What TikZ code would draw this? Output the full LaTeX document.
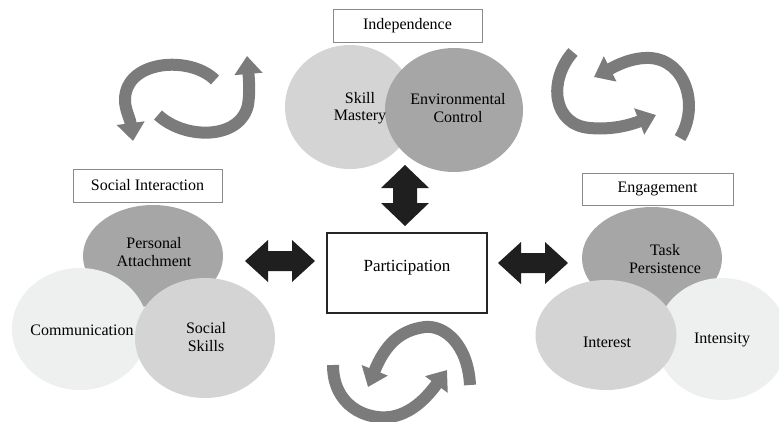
\documentclass[tikz,border=0pt]{standalone}
\usepackage{fontspec}
\setmainfont{Liberation Serif}
\usetikzlibrary{arrows.meta,shapes.geometric}
\definecolor{darkfill}{HTML}{A6A6A6}
\definecolor{midfill}{HTML}{D4D4D4}
\definecolor{lightfill}{HTML}{EEF0F0}
\definecolor{cyclegray}{HTML}{7B7B7B}
\definecolor{boxline}{HTML}{8A8A8A}
\tikzset{
  bubble/.style={ellipse, draw=none, inner sep=0pt},
  lbl/.style={font=\fontsize{16}{17.5}\selectfont, align=center, text=black},
  titlebox/.style={draw=boxline, line width=0.8pt, fill=white, font=\fontsize{16}{17.5}\selectfont, inner sep=0pt},
  mainbox/.style={draw=black!85, line width=1.6pt, fill=white, inner sep=0pt},
  dblarrow/.style={fill=black!88, draw=none},
  cyc/.style={draw=cyclegray, line width=12pt, line cap=butt, -{Triangle[width=27pt,length=18pt]}}
}
\begin{document}
\begin{tikzpicture}[x=1pt,y=-1pt]
\useasboundingbox (0,0) rectangle (779,421);
\fill[white] (0,0) rectangle (779,421);

% Independence
\node[titlebox, minimum width=149pt, minimum height=33pt] (indep) at (407.5,25.5) {Independence};
\node[bubble, fill=midfill, minimum width=130pt, minimum height=124pt] (skill) at (350,107) {};
\node[bubble, fill=darkfill, minimum width=138pt, minimum height=124pt] (env) at (454,110) {};
\node[lbl] (skilltxt) at (360,108) {Skill\\Mastery};
\node[lbl] (envtxt) at (458,108) {Environmental\\Control};

% Social Interaction
\node[titlebox, minimum width=149pt, minimum height=33pt] (social) at (147.5,185.5) {Social Interaction};
\node[bubble, fill=darkfill, minimum width=140pt, minimum height=102pt] (pers) at (153,256) {};
\node[bubble, fill=lightfill, minimum width=136pt, minimum height=122pt] (comm) at (80,329) {};
\node[bubble, fill=midfill, minimum width=140pt, minimum height=120pt] (sskills) at (205,338) {};
\node[lbl] (perstxt) at (154,252) {Personal\\Attachment};
\node[lbl] (commtxt) at (82,330) {Communication};
\node[lbl] (sskillstxt) at (206,337) {Social\\Skills};

% Engagement
\node[titlebox, minimum width=151pt, minimum height=32pt] (engage) at (657.5,189) {Engagement};
\node[bubble, fill=darkfill, minimum width=140pt, minimum height=102pt] (task) at (652,258) {};
\node[bubble, fill=lightfill, minimum width=132pt, minimum height=122pt] (intens) at (722,339) {};
\node[bubble, fill=midfill, minimum width=141pt, minimum height=110pt] (inter) at (606,335) {};
\node[lbl] (tasktxt) at (665,259) {Task\\Persistence};
\node[lbl] (intertxt) at (607,342) {Interest};
\node[lbl] (intenstxt) at (722,340) {Intensity};

% Participation
\node[mainbox, minimum width=160pt, minimum height=80pt] (part) at (407,273) {};
\node[lbl, font=\fontsize{17}{19}\selectfont] (parttxt) at (407,268) {Participation};

% double arrows
\fill[dblarrow] (405,165) -- (429,188) -- (417,188) -- (417,203) -- (429,203) -- (405,226)
  -- (381,203) -- (393,203) -- (393,188) -- (381,188) -- cycle;
\fill[dblarrow] (245,261) -- (268,240) -- (268,251) -- (292,251) -- (292,240) -- (315,261)
  -- (292,282) -- (292,271) -- (268,271) -- (268,282) -- cycle;
\fill[dblarrow] (498,263) -- (521,242) -- (521,253) -- (545,253) -- (545,242) -- (568,263)
  -- (545,284) -- (545,273) -- (521,273) -- (521,284) -- cycle;

% top-left cycle
\coordinate (a1) at (215,80);
\coordinate (a2) at (133,141);
\draw[cyc] (a1) .. controls (190,55) and (125,60) .. (125,100) .. controls (125,110) and (130,118) .. (a2);
\coordinate (b1) at (158,115);
\coordinate (b2) at (247,56);
\draw[cyc] (b1) .. controls (185,140) and (240,140) .. (248,105) .. controls (250,92) and (249,80) .. (b2);

% top-right cycle
\coordinate (c1) at (573,52);
\coordinate (c2) at (656,115);
\draw[cyc] (c1) .. controls (548,80) and (552,125) .. (590,128) .. controls (612,130) and (630,125) .. (c2);
\coordinate (d1) at (680,138);
\coordinate (d2) at (594,77);
\draw[cyc] (d1) .. controls (700,105) and (685,60) .. (650,58) .. controls (630,57) and (612,68) .. (d2);

% bottom cycle
\coordinate (e1) at (470,385);
\coordinate (e2) at (368,387);
\draw[cyc] (e1) .. controls (468,345) and (445,325) .. (425,327) .. controls (400,330) and (385,345) .. (e2);
\coordinate (f1) at (333,365);
\coordinate (f2) at (447,370);
\draw[cyc] (f1) .. controls (333,405) and (365,420) .. (390,417) .. controls (410,414) and (425,400) .. (f2);
\end{tikzpicture}
\end{document}
